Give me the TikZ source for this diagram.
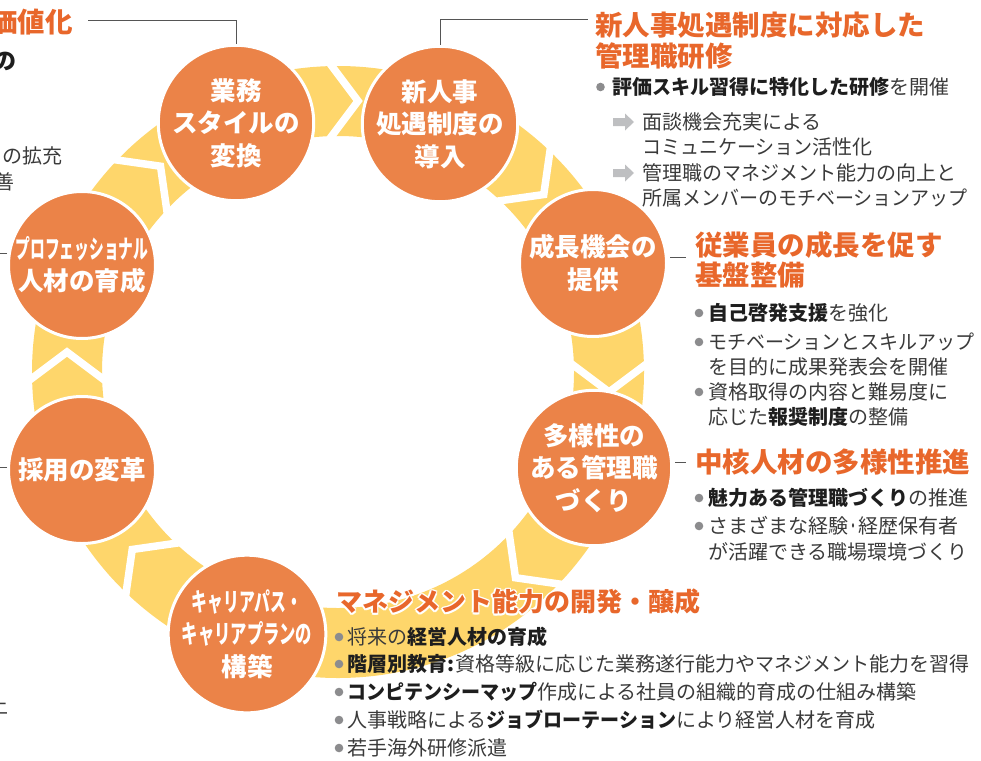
\documentclass[tikz,border=0pt]{standalone}
\usepackage{fontspec}
\setmainfont{Noto Sans CJK JP}
\usepackage{graphicx}
\usetikzlibrary{calc}
\definecolor{circorange}{HTML}{EB8348}
\definecolor{ttlorange}{HTML}{E8672B}
\definecolor{bandyellow}{HTML}{FED66B}
\definecolor{txtgray}{HTML}{3A3A3A}
\definecolor{txtdark}{HTML}{1E1E1E}
\definecolor{dotgray}{HTML}{8C8C8E}
\definecolor{arrgray}{HTML}{BEBFC1}
\definecolor{leadgray}{HTML}{555555}
\newcommand{\hcp}[3]{\rlap{\kern#1\raisebox{#2}{\textcolor{white}{#3}}}}
\newcommand{\halotxt}[1]{\hcp{1.7pt}{0pt}{#1}\hcp{-1.7pt}{0pt}{#1}\hcp{0pt}{1.7pt}{#1}\hcp{0pt}{-1.7pt}{#1}\hcp{1.2pt}{1.2pt}{#1}\hcp{-1.2pt}{1.2pt}{#1}\hcp{1.2pt}{-1.2pt}{#1}\hcp{-1.2pt}{-1.2pt}{#1}#1}
\newcommand{\bd}[1]{{\bfseries\color{txtdark}#1}}
\newcommand{\kt}[1]{\scalebox{0.95}[1]{#1}}
\newcommand{\nd}{\scalebox{0.5}[1]{・}}
\begin{document}
\begin{tikzpicture}[x=1pt,y=-1pt,
  circ/.style={circle, fill=circorange, draw=white, line width=3pt, minimum size=147pt, inner sep=0pt, text=white, align=center, font=\bfseries\fontsize{25.5}{32.5}\selectfont},
  chev/.style={draw=white, line width=7.5pt, line join=miter},
  lead/.style={draw=leadgray, line width=0.9pt},
  ttl/.style={anchor=west, inner sep=0pt, text=ttlorange, font=\bfseries\fontsize{27.5}{33}\selectfont, text height=24.2pt, text depth=3.3pt},
  ttlb/.style={anchor=west, inner sep=0pt, text=ttlorange, font=\bfseries\fontsize{26}{31}\selectfont, text height=22.9pt, text depth=3.1pt},
  bod/.style={anchor=west, inner sep=0pt, text=txtgray, font=\fontsize{20}{24}\selectfont, text height=17.6pt, text depth=2.4pt},
  dot/.style={fill=dotgray},
  arr/.style={fill=arrgray}
]
\useasboundingbox (0,0) rectangle (981,760);
\coordinate (C) at (338,372);
% ring band
\fill[bandyellow, even odd rule] (C) circle[radius=306pt] (C) circle[radius=236pt];
\foreach \a in {-90,-45,0,45,135,180,225}
  \draw[chev] ($(C)+(\a:311)+(\a-90:10)$) -- ($(C)+(\a:271)+(\a+90:20)$) -- ($(C)+(\a:231)+(\a-90:10)$);
% circles
\node[circ] (gyomu) at (236,123) {業務\\スタイルの\\変換};
\node[circ] (shin) at (440,124) {新人事\\処遇制度の\\導入};
\node[circ] (seicho) at (593,263) {成長機会の\\提供};
\node[circ] (tayo) at (594,468) {多様性の\\ある管理職\\づくり};
\node[circ] (career) at (247,634) {\scalebox{0.62}[1]{キャリアパス・}\\\scalebox{0.64}[1]{キャリアプランの}\\構築};
\node[circ] (saiyo) at (82,470) {採用の変革};
\node[circ] (pro) at (82,265) {\scalebox{0.58}[1]{プロフェッショナル}\\人材の育成};
% leader lines
\coordinate (gyL) at (88,20);
\draw[lead] (gyomu.north) |- (gyL);
\coordinate (shL) at (588,19);
\draw[lead] (shin.north) |- (shL);
\coordinate (seL) at (686,257);
\draw[lead] ([xshift=2pt]seicho.east |- seL) -- (seL);
\coordinate (taL) at (686,462);
\draw[lead] ([xshift=2pt]tayo.east |- taL) -- (taL);
\coordinate (prL) at (0,253);
\draw[lead] (pro.west |- prL) -- (prL);
\coordinate (saL) at (0,467);
\draw[lead] (saiyo.west |- saL) -- (saL);
% left cut-off texts
\node[ttl, anchor=east] (lc1) at (73,22.5) {価値化};
\node[anchor=east, inner sep=0pt, font=\bfseries\fontsize{23}{23}\selectfont, text=txtdark, text height=20.2pt, text depth=2.8pt] (lc2) at (17,61) {の};
\node[bod, anchor=east] (lc3) at (63,156) {の拡充};
\node[bod, anchor=east] (lc4) at (15,182) {善};
\node[bod, anchor=east] (lc5) at (9,706) {上};
% section 1
\node[ttl] (t1a) at (595,25) {新人事処遇制度に対応した};
\node[ttl] (t1b) at (595,56) {管理職研修};
\fill[dot] (600.5,87) circle[radius=4.3pt];
\node[bod] (b1a) at (612,87) {\bd{評価\kt{スキル}習得に特化した研修}を開催};
\fill[arr] (613,118) -- (625,118) -- (625,113.5) -- (634,122) -- (625,130.5) -- (625,126) -- (613,126) -- cycle;
\node[bod] (b1b) at (642,122) {面談機会充実による};
\node[bod] (b1c) at (642,147) {\kt{コミュニケーション}活性化};
\fill[arr] (613,169) -- (625,169) -- (625,164.5) -- (634,173) -- (625,181.5) -- (625,177) -- (613,177) -- cycle;
\node[bod] (b1d) at (642,173) {管理職の\kt{マネジメント}能力の向上と};
\node[bod] (b1e) at (642,198) {所属\kt{メンバー}の\kt{モチベーションアップ}};
% section 2
\node[ttl] (t2a) at (695,245) {従業員の成長を促す};
\node[ttl] (t2b) at (695,275) {基盤整備};
\fill[dot] (699,313) circle[radius=4.3pt];
\node[bod] (b2a) at (708,313) {\bd{自己啓発支援}を強化};
\fill[dot] (699,342) circle[radius=4.3pt];
\node[bod] (b2b) at (708,342) {\kt{モチベーション}と\kt{スキルアップ}};
\node[bod] (b2c) at (708,367) {を目的に成果発表会を開催};
\fill[dot] (699,392) circle[radius=4.3pt];
\node[bod] (b2d) at (708,392) {資格取得の内容と難易度に};
\node[bod] (b2e) at (708,417) {応じた\bd{報奨制度}の整備};
% section 3
\node[ttl] (t3a) at (695,462) {中核人材の多様性推進};
\fill[dot] (699,498) circle[radius=4.3pt];
\node[bod] (b3a) at (708,498) {\bd{魅力ある管理職づくり}の推進};
\fill[dot] (699,526) circle[radius=4.3pt];
\node[bod] (b3b) at (708,526) {さまざまな経験\nd 経歴保有者};
\node[bod] (b3c) at (708,552) {が活躍できる職場環境づくり};
% section 4
\node[ttlb] (t4a) at (336,602) {\halotxt{マネジメント能力の開発・醸成}};
\fill[dot] (339,637) circle[radius=4.3pt];
\node[bod] (b4a) at (347,637) {将来の\bd{経営人材の育成}};
\fill[dot] (339,664) circle[radius=4.3pt];
\node[bod] (b4b) at (347,664) {\bd{階層別教育:}\kern1pt 資格等級に応じた業務遂行能力や\kt{マネジメント}能力を習得};
\fill[dot] (339,692) circle[radius=4.3pt];
\node[bod] (b4c) at (347,692) {\bd{\kt{コンピテンシーマップ}}作成による社員の組織的育成の仕組み構築};
\fill[dot] (339,720) circle[radius=4.3pt];
\node[bod] (b4d) at (347,720) {人事戦略による\bd{\kt{ジョブローテーション}}により経営人材を育成};
\fill[dot] (339,748) circle[radius=4.3pt];
\node[bod] (b4e) at (347,748) {若手海外研修派遣};
\end{tikzpicture}
\end{document}
